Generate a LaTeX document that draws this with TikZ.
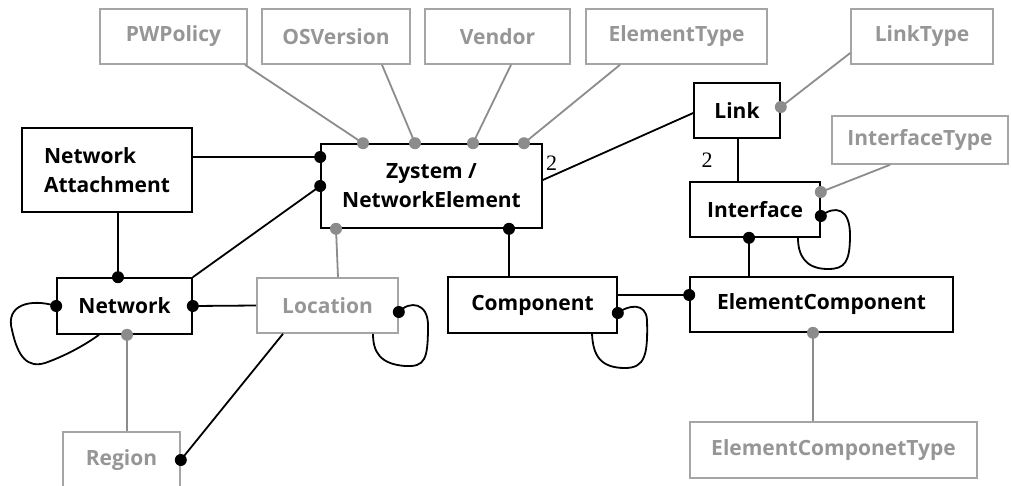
\documentclass[tikz,border=0pt]{standalone}
\usepackage{fontspec}
\setmainfont{Open Sans}
\newfontfamily\numfont{Liberation Serif}
\definecolor{lngray}{RGB}{140,140,140}
\definecolor{boxgray}{RGB}{165,165,165}
\definecolor{txtgray}{RGB}{150,150,150}
\tikzset{
  ent/.style={draw=black, line width=1.6pt, rectangle, inner sep=0pt,
    font=\fontsize{21}{29}\selectfont\bfseries, text=black, align=center},
  att/.style={draw=boxgray, line width=1.6pt, rectangle, inner sep=0pt,
    font=\fontsize{21}{29}\selectfont\bfseries, text=txtgray, align=center},
  rel/.style={draw=black, line width=1.8pt},
  grel/.style={draw=lngray, line width=1.8pt},
  bdot/.style={circle, fill=black, inner sep=0pt, minimum size=12pt},
  gdot/.style={circle, fill=lngray, inner sep=0pt, minimum size=12pt},
  card/.style={font=\numfont\fontsize{22}{24}\selectfont, inner sep=0pt}
}
\begin{document}
\begin{tikzpicture}[x=1pt, y=-1pt]
\useasboundingbox (0,0) rectangle (1011,485);
\clip (0,0) rectangle (1011,485);

% attribute boxes along the top
\node[att, minimum width=147pt, minimum height=55pt] (pw)  at (173.5,36.5) {PWPolicy};
\node[att, minimum width=148pt, minimum height=55pt] (os)  at (336,36.5)   {OSVersion};
\node[att, minimum width=145pt, minimum height=55pt] (ven) at (497.5,36.5) {Vendor};
\node[att, minimum width=181pt, minimum height=55pt] (et)  at (676.5,36.5) {ElementType};
\node[att, minimum width=142pt, minimum height=55pt] (lt)  at (922,36.5)   {LinkType};
\node[att, minimum width=176pt, minimum height=48pt] (ift) at (920,140)    {InterfaceType};

% entities
\node[ent, minimum width=170pt, minimum height=84pt, align=left] (na) at (107,170) {Network\\Attachment};
\node[ent, minimum width=221pt, minimum height=84pt] (zy) at (431.5,186) {Zystem /\\NetworkElement};
\node[ent, minimum width=86pt,  minimum height=55pt] (link) at (737,110.5) {Link};
\node[ent, minimum width=130pt, minimum height=55pt] (intf) at (755,209.5) {Interface};
\node[ent, minimum width=135pt, minimum height=56pt] (net) at (124.5,306) {Network};
\node[att, minimum width=141pt, minimum height=55pt] (loc) at (327.5,305.5) {Location};
\node[ent, minimum width=169pt, minimum height=56pt] (comp) at (532.5,305) {Component};
\node[ent, minimum width=263pt, minimum height=55pt] (ec) at (821.5,304.5) {ElementComponent};
\node[att, minimum width=117pt, minimum height=56pt] (reg) at (121.5,460) {Region};
\node[att, minimum width=287pt, minimum height=56pt] (ect) at (833.5,450) {ElementComponetType};

% attachment points
\coordinate (zyA) at ([yshift=29pt]zy.west);
\coordinate (zyB) at (zy.west);
\coordinate (naS) at ([xshift=11pt]na.south);
\coordinate (netW) at (net.west);
\coordinate (netE) at (net.east);
\coordinate (netG) at ([xshift=2.5pt]net.south);
\coordinate (locB) at ([xshift=-44.5pt]loc.south);
\coordinate (locL) at ([yshift=-6.5pt]loc.east);
\coordinate (zyG) at ([xshift=-95.5pt]zy.south);
\coordinate (zyC) at ([xshift=77.5pt]zy.south);
\coordinate (zyT1) at ([xshift=-68.5pt]zy.north);
\coordinate (zyT2) at ([xshift=-16.5pt]zy.north);
\coordinate (zyT3) at ([xshift=41.5pt]zy.north);
\coordinate (zyT4) at ([xshift=92.5pt]zy.north);
\coordinate (zyR) at ([yshift=6pt]zy.east);
\coordinate (linkS) at ([xshift=1pt]link.south);
\coordinate (linkG) at ([yshift=3.5pt]link.east);
\coordinate (intfG) at ([yshift=17.5pt]intf.east);
\coordinate (intfL) at ([yshift=-6.5pt]intf.east);
\coordinate (intfS) at ([xshift=-6pt]intf.south);
\coordinate (compE) at ([yshift=10pt]comp.east);
\coordinate (compL) at ([yshift=-8pt]comp.east);
\coordinate (ecG) at ([xshift=-8.5pt]ec.south);

% grey attribute connectors
\draw[grel] ([xshift=71.5pt]pw.south) -- (zyT1);
\draw[grel] ([xshift=46pt]os.south) -- (zyT2);
\draw[grel] ([xshift=13.5pt]ven.south) -- (zyT3);
\draw[grel] ([xshift=-56.5pt]et.south) -- (zyT4);
\draw[grel] (linkG) -- ([yshift=-16.5pt]lt.west);
\draw[grel] (intfG) -- ([xshift=-30pt]ift.south);
\draw[grel] (zyG) -- ([xshift=10.5pt]loc.north);
\draw[grel] (netG) -- (netG |- reg.north);
\draw[grel] (ecG) -- (ecG |- ect.north);

% relationships
\draw[rel] ([yshift=13pt]na.east) -- (zyA);
\draw[rel] (net.north east) -- (zyB);
\draw[rel] (naS) -- (naS |- net.north);
\draw[rel] (netE) -- (loc.west);
\draw[rel] (locB) -- (reg.east);
\draw[rel] (zyC) -- (zyC |- comp.north);
\draw[rel] (zyR) -- ([yshift=-2.5pt]link.west);
\draw[rel] (linkS) -- (linkS |- intf.north);
\draw[rel] (intfS) -- (intfS |- ec.north);
\draw[rel] ([xshift=-2pt]compE) -- (compE -| ec.west);

% recursive relationships
\draw[rel] (netW) .. controls (30,298) and (5,305) .. (12,330)
  .. controls (18,358) and (28,368) .. (45,363)
  .. controls (65,356) and (85,345) .. ([xshift=-25.5pt]net.south);
\draw[rel] (locL) .. controls (410,300) and (428,303) .. (428,325)
  .. controls (428,360) and (425,367) .. (405,366)
  .. controls (380,364) and (373,352) .. ([xshift=45.5pt]loc.south);
\draw[rel] (compL) .. controls (628,305) and (646,302) .. (647,320)
  .. controls (648,355) and (645,368) .. (625,368)
  .. controls (600,368) and (593,355) .. ([xshift=59.5pt]comp.south);
\draw[rel] (intfL) .. controls (835,205) and (850,208) .. (850,235)
  .. controls (850,262) and (845,269) .. (828,269)
  .. controls (805,269) and (798,255) .. ([xshift=43pt]intf.south);

% cardinalities
\node[card, anchor=west] (c1) at ([xshift=3pt, yshift=23pt]zy.east) {2};
\node[card] (c2) at (707,160) {2};

% end markers
\foreach \p in {zyT1,zyT2,zyT3,zyT4,zyG,netG,linkG,intfG,ecG}
  \node[gdot] at (\p) {};
\foreach \p in {zyA,zyB,netW,netE,locL,zyC,intfL,intfS,compL}
  \node[bdot] at (\p) {};
\node[bdot] at (naS |- net.north) {};
\node[bdot] at (reg.east) {};
\node[bdot] at (compE -| ec.west) {};
\end{tikzpicture}
\end{document}
